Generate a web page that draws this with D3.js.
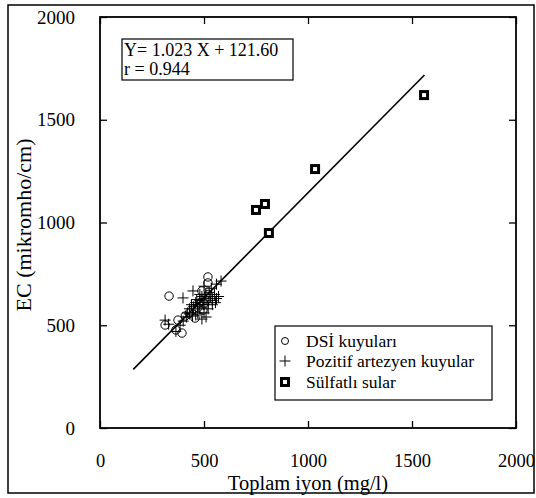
<!DOCTYPE html>
<html><head><meta charset="utf-8">
<script src="https://cdn.jsdelivr.net/npm/d3@7"></script>
<style>body{margin:0;background:#fff}svg{display:block}</style>
</head><body>
<script>
// Data (Toplam iyon mg/l, EC mikromho/cm)
const dsiX = [332,519,519,490,313,375,394,365,457,495,430,470,510,520,500,450,410,480];
const dsiY = [642,735,706,667,501,525,462,477,535,574,560,585,620,650,605,580,545,610];
const pozX = [313,330,365,399,447,582,560,420,430,440,450,460,470,480,490,500,505,510,520,530,540,550,560,570,480,460,445,500,520,510,490,430,415,540,555,470,495,525,535,500,480,465,400,385];
const pozY = [525,505,470,633,667,715,700,560,580,600,590,610,560,620,640,600,650,630,610,640,620,650,630,640,580,550,545,560,580,540,530,555,540,600,610,600,610,660,680,690,650,625,520,500];
const sulX = [1558,1034,750,793,812];
const sulY = [1620,1260,1061,1090,949];
const xTicks = [0,500,1000,1500,2000];
const yTicks = [0,500,1000,1500,2000];
const slope = 1.023, intercept = 121.60, rValue = 0.944;
const lineRange = [160,1560];
const legendLabels = ["DSİ kuyuları","Pozitif artezyen kuyular","Sülfatlı sular"];

const FONT = "'Liberation Serif', 'Times New Roman', Times, 'Nimbus Roman', 'DejaVu Serif', serif";
const W=536,H=498;
const svg=d3.select("body").append("svg").attr("width",W).attr("height",H)
  .attr("font-family",FONT);
const x=d3.scaleLinear().domain([0,2000]).range([100,516]);
const y=d3.scaleLinear().domain([0,2000]).range([428,17]);

// outer frame
svg.append("rect").attr("x",8).attr("y",5).attr("width",526).attr("height",488)
  .attr("fill","none").attr("stroke","#000").attr("stroke-width",1.5);

const ax=(fs)=>(g)=>{g.attr("font-family",FONT).attr("font-size",fs);g.select(".domain").remove();g.selectAll("line").attr("stroke","#000").attr("stroke-width",1.3);g.selectAll("text").attr("fill","#000");};
svg.append("g").attr("transform","translate(0,428)")
  .call(d3.axisBottom(x).tickValues(xTicks).tickSize(-7).tickPadding(26).tickFormat(d3.format("d")))
  .call(ax(18.5));
svg.append("g").attr("transform","translate(100,0)")
  .call(d3.axisLeft(y).tickValues(yTicks).tickSize(-7).tickPadding(25).tickFormat(d3.format("d")))
  .call(ax(19));
svg.append("g").attr("transform","translate(516,0)")
  .call(d3.axisRight(y).tickValues(yTicks).tickSize(-7).tickFormat(""))
  .call(ax(19));
svg.append("g").attr("transform","translate(0,17)")
  .call(d3.axisTop(x).tickValues(xTicks).tickSize(-7).tickFormat(""))
  .call(ax(19));
svg.append("rect").attr("x",100).attr("y",17).attr("width",416).attr("height",411)
  .attr("fill","none").attr("stroke","#000").attr("stroke-width",1.8);

// titles
svg.append("text").attr("x",308).attr("y",490).attr("text-anchor","middle").attr("font-size",20.5).text("Toplam iyon (mg/l)");
svg.append("text").attr("transform","translate(31,225) rotate(-90)").attr("text-anchor","middle").attr("font-size",22).text("EC (mikromho/cm)");

// regression line
svg.append("line").attr("x1",x(lineRange[0])).attr("y1",y(slope*lineRange[0]+intercept))
  .attr("x2",x(lineRange[1])).attr("y2",y(slope*lineRange[1]+intercept))
  .attr("stroke","#000").attr("stroke-width",1.6);

// points
const crossPath = (s)=>`M${-s},0H${s}M0,${-s}V${s}`;
svg.append("g").selectAll("circle").data(dsiX.map((d,i)=>[d,dsiY[i]])).join("circle")
  .attr("cx",d=>x(d[0])).attr("cy",d=>y(d[1])).attr("r",4.2)
  .attr("fill","none").attr("stroke","#000").attr("stroke-width",1);
svg.append("g").selectAll("path").data(pozX.map((d,i)=>[d,pozY[i]])).join("path")
  .attr("transform",d=>`translate(${x(d[0])},${y(d[1])})`).attr("d",crossPath(5.5))
  .attr("fill","none").attr("stroke","#000").attr("stroke-width",1);
svg.append("g").selectAll("rect").data(sulX.map((d,i)=>[d,sulY[i]])).join("rect")
  .attr("x",d=>x(d[0])-3.5).attr("y",d=>y(d[1])-3.5).attr("width",7).attr("height",7)
  .attr("fill","#fff").attr("stroke","#000").attr("stroke-width",3);

// equation box
svg.append("rect").attr("x",122).attr("y",39).attr("width",171).attr("height",41)
  .attr("fill","#fff").attr("stroke","#000").attr("stroke-width",1.2);
svg.append("text").attr("x",124).attr("y",56).attr("font-size",18)
  .text(`Y= ${slope.toFixed(3)} X + ${intercept.toFixed(2)}`);
svg.append("text").attr("x",124).attr("y",75).attr("font-size",18)
  .text(`r = ${rValue.toFixed(3)}`);

// legend
const lg=svg.append("g");
lg.append("rect").attr("x",275).attr("y",326).attr("width",217).attr("height",74)
  .attr("fill","#fff").attr("stroke","#000").attr("stroke-width",1.2);
const rowsY=[341,361,382];
lg.append("circle").attr("cx",285).attr("cy",rowsY[0]).attr("r",3.5).attr("fill","none").attr("stroke","#000").attr("stroke-width",1);
lg.append("path").attr("transform",`translate(285,${rowsY[1]})`).attr("d",crossPath(5.5)).attr("stroke","#000").attr("stroke-width",1);
lg.append("rect").attr("x",285-3.5).attr("y",rowsY[2]-3.5).attr("width",7).attr("height",7).attr("fill","#fff").attr("stroke","#000").attr("stroke-width",3);
legendLabels.forEach((t,i)=>{
  lg.append("text").attr("x",306).attr("y",rowsY[i]+6).attr("font-size",17.5).text(t);
});
</script>
</body></html>
